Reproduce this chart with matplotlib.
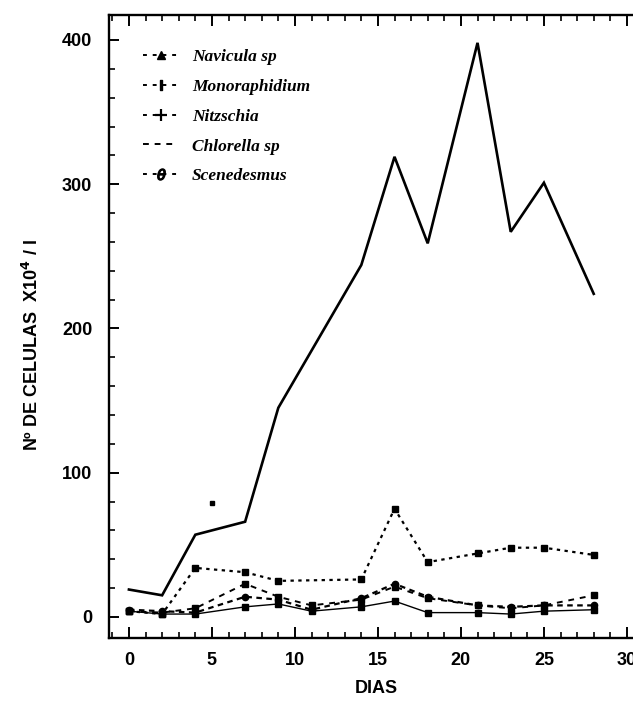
import matplotlib
matplotlib.use("Agg")
import matplotlib.pyplot as plt
from matplotlib.lines import Line2D
from matplotlib.ticker import MultipleLocator

# ---- data ----
dias_big = [0, 2, 4, 7, 9, 14, 16, 18, 21, 23, 25, 28]
scenedesmus = [19, 15, 57, 66, 145, 244, 319, 259, 398, 267, 301, 224]

dias_nav = [0, 2, 4, 7, 9, 14, 16, 18, 21, 23, 25, 28]
navicula = [4, 2, 34, 31, 25, 26, 75, 38, 44, 48, 48, 43]

dias_low = [0, 2, 4, 7, 9, 11, 14, 16, 18, 21, 23, 25, 28]
monoraphidium = [4, 3, 6, 23, 14, 8, 12, 21, 13, 8, 6, 8, 15]
nitzschia = [5, 4, 3, 14, 12, 5, 13, 23, 14, 8, 7, 8, 8]
chlorella = [4, 2, 2, 7, 9, 4, 7, 11, 3, 3, 2, 4, 5]

stray_x = [5]
stray_y = [79]

xticks = [0, 5, 10, 15, 20, 25, 30]
yticks = [0, 100, 200, 300, 400]
legend_labels = ["Navicula sp", "Monoraphidium", "Nitzschia", "Chlorella sp", "Scenedesmus"]

W, H = 633, 702
fig = plt.figure(figsize=(W / 100, H / 100), dpi=100)

xmin, xmax = -1.2, 31.0
ymin, ymax = -14.6, 417.3
left_px, bottom_px, top_px = 109, 638, 15
px_per_x = 16.6
ax = fig.add_axes([left_px / W, 1 - bottom_px / H,
                   (xmax - xmin) * px_per_x / W, (bottom_px - top_px) / H])

k = "black"
ax.plot(dias_big, scenedesmus, color=k, lw=1.9, solid_joinstyle="miter")
ax.plot(dias_nav, navicula, color=k, lw=1.6, ls=(0, (1.5, 2.0)),
        marker="s", ms=4.5)
ax.plot(dias_low, monoraphidium, color=k, lw=1.4, ls=(0, (3, 3)),
        marker="s", ms=4)
ax.plot(dias_low, nitzschia, color=k, lw=1.6, ls=(0, (2.5, 2.0)),
        marker="o", ms=4.5)
ax.plot(dias_low, chlorella, color=k, lw=1.0, ls="-",
        marker="s", ms=4)
ax.plot(stray_x, stray_y, ls="none", marker="s", ms=3.5, color=k)

ax.set_xlim(xmin, xmax)
ax.set_ylim(ymin, ymax)
ax.set_xticks(xticks)
ax.set_yticks(yticks)
ax.xaxis.set_minor_locator(MultipleLocator(1))
ax.yaxis.set_minor_locator(MultipleLocator(20))

for s in ax.spines.values():
    s.set_linewidth(1.7)
ax.spines["right"].set_visible(False)

ax.tick_params(axis="x", which="both", direction="in", top=True, bottom=True)
ax.tick_params(axis="x", which="major", length=8, width=1.4, pad=10)
ax.tick_params(axis="x", which="minor", length=4, width=1.2)
ax.tick_params(axis="y", which="both", direction="in", left=True, right=False)
ax.tick_params(axis="y", which="major", length=7, width=1.4, pad=12)
ax.tick_params(axis="y", which="minor", length=4, width=1.2)

for lab in ax.get_xticklabels() + ax.get_yticklabels():
    lab.set_fontfamily("Liberation Sans")
    lab.set_fontweight("bold")
    lab.set_fontsize(13)

ax.set_xlabel("DIAS", fontfamily="Liberation Sans", fontweight="bold",
              fontsize=13, labelpad=8)
ax.set_ylabel("Nº DE CELULAS  X10$^\\mathbf{4}$ / l", fontfamily="Liberation Sans",
              fontweight="bold", fontsize=13)
ax.yaxis.set_label_coords(-0.125, 0.47)

handles = [
    Line2D([], [], color=k, lw=1.4, ls=(0, (2, 3)), marker="^", ms=5.5),
    Line2D([], [], color=k, lw=1.4, ls=(0, (2, 3)), marker="$\\mathbf{I}$", ms=7),
    Line2D([], [], color=k, lw=1.4, ls=(0, (2, 3)), marker="+", ms=8, mew=1.6),
    Line2D([], [], color=k, lw=1.4, ls=(0, (3, 3))),
    Line2D([], [], color=k, lw=1.4, ls=(0, (2, 3)), marker="$\\theta$", ms=8),
]
leg = ax.legend(handles, legend_labels, loc="upper left",
                bbox_to_anchor=(0.035, 0.97), frameon=False,
                handlelength=2.0, handletextpad=0.8, labelspacing=0.78,
                prop={"family": "Liberation Serif", "style": "italic",
                      "weight": "bold", "size": 12.5})

fig.savefig("out.png", dpi=100)
